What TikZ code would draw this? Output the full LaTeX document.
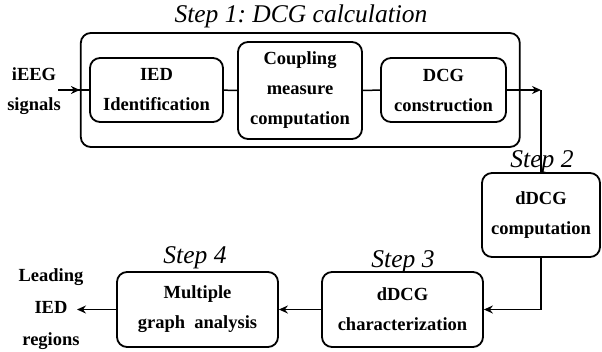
\documentclass[tikz,border=0pt]{standalone}
\usepackage{fontspec}
\setmainfont{Liberation Serif}
\usetikzlibrary{arrows.meta}

\newcommand\stagefont{\bfseries\fontsize{18.5}{30}\selectfont}

\tikzset{
  stage/.style={draw, line width=1.8pt, rounded corners=10pt, align=center,
    inner sep=0pt, font=\stagefont},
  plain/.style={align=center, inner sep=0pt, font=\stagefont},
  link/.style={line width=1.5pt},
  flow/.style={link, -{Stealth[length=9pt,width=8pt,inset=3pt]}},
  steplabel/.style={font=\frenchspacing\itshape\fontsize{25.5}{30}\selectfont,
    anchor=base, inner sep=0pt},
}

\begin{document}
\begin{tikzpicture}[x=1pt,y=-1pt]
\useasboundingbox (0,0) rectangle (602,351);

% Step 1 frame and its three stages
\node[stage, minimum width=439pt, minimum height=114pt] (frame) at (300.3,90) {};
\node[stage, minimum width=133pt, minimum height=64pt] (ied) at (156.5,90) {IED\\Identification};
\node[stage, minimum width=124pt, minimum height=97pt] (coup) at (300,90.5) {Coupling\\measure\\computation};
\node[stage, minimum width=125pt, minimum height=64pt] (dcg) at (443.5,90) {DCG\\construction};

% later steps
\node[stage, minimum width=118pt, minimum height=84pt] (ddcg) at (541,215) {dDCG\\computation};
\node[stage, minimum width=161pt, minimum height=75pt] (charz) at (402.5,309.5) {dDCG\\characterization};
\node[stage, minimum width=161pt, minimum height=75pt] (multi) at (197.5,309.5) {Multiple\\graph\ \ analysis};

% step captions
\node[steplabel] (cap1) at (301,22) {Step 1: DCG calculation};
\node[steplabel] (cap2) at (542,167) {Step 2};
\node[steplabel] (cap3) at (403,267) {Step 3};
\node[steplabel] (cap4) at (195,263) {Step 4};

% input and output labels
\node[plain] (signals) at (34,91) {iEEG\\signals};
\node[plain, font=\bfseries\fontsize{18.5}{32}\selectfont] (regions) at (51,309) {Leading\\IED\\regions};

\coordinate (src) at (58,90);
\coordinate (turn) at (541,90);
\coordinate (sink) at (77,309.5);

% connectors
\draw[link] (src) -- (ied.west);
\draw[flow] (src) -- (src -| frame.west);
\draw[link] (ied) -- (coup);
\draw[link] (coup) -- (dcg);
\draw[flow] (dcg.east) -- (turn);
\draw[link] (turn) -- (ddcg.north);
\draw[flow] (ddcg.south) |- (charz.east);
\draw[flow] (charz) -- (multi);
\draw[flow] (multi) -- (sink);
\end{tikzpicture}
\end{document}
